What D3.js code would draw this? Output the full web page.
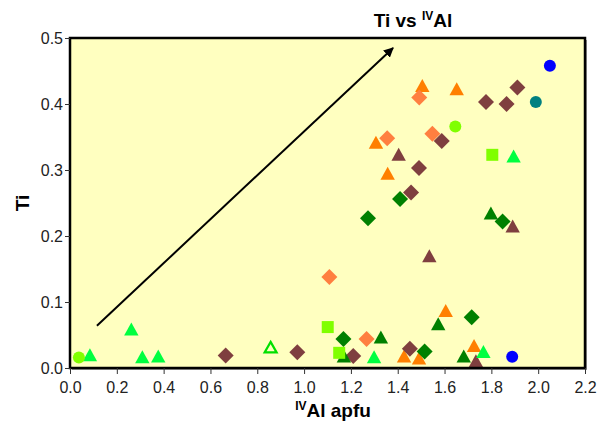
<!DOCTYPE html>
<html><head><meta charset="utf-8">
<script src="https://cdn.jsdelivr.net/npm/d3@7"></script>
<style>body{margin:0;background:#fff}svg{display:block}</style>
</head><body>
<svg id="chart" width="607" height="435"></svg>
<script>
// ---- data ----
const xTicks = [0.0,0.2,0.4,0.6,0.8,1.0,1.2,1.4,1.6,1.8,2.0,2.2];
const yTicks = [0.0,0.1,0.2,0.3,0.4,0.5];
const orangeTriangles = [[1.505,0.425],[1.652,0.420],[1.307,0.339],[1.357,0.292],[1.427,0.015],[1.491,0.012],[1.605,0.084],[1.726,0.031]];
const coralDiamonds = [[1.492,0.410],[1.355,0.348],[1.548,0.355],[1.108,0.138],[1.267,0.044]];
const brownDiamonds = [[0.665,0.019],[0.971,0.024],[1.210,0.018],[1.452,0.029],[1.491,0.303],[1.457,0.266],[1.588,0.344],[1.777,0.403],[1.865,0.400],[1.911,0.425]];
const brownTriangles = [[1.404,0.321],[1.535,0.167],[1.891,0.212],[1.734,0.008]];
const darkGreenDiamonds = [[1.410,0.256],[1.273,0.227],[1.848,0.222],[1.168,0.044],[1.515,0.025],[1.716,0.077]];
const darkGreenTriangles = [[1.798,0.232],[1.170,0.015],[1.328,0.044],[1.573,0.064],[1.682,0.015]];
const greenTriangles = [[0.085,0.017],[0.262,0.056],[0.309,0.014],[0.377,0.015],[1.299,0.014],[1.766,0.022],[1.895,0.318]];
const greenOpenTriangles = [[0.857,0.029]];
const limeCircles = [[0.038,0.016],[1.646,0.366]];
const limeSquares = [[1.101,0.062],[1.150,0.023],[1.804,0.323]];
const blueCircles = [[2.050,0.458],[1.889,0.017]];
const tealCircles = [[1.990,0.403]];
const arrowFrom = [0.115,0.064];
const arrowTo = [1.38,0.485];

const series = [
  {data: orangeTriangles, shape:'triangle', fill:'#FF7F00'},
  {data: coralDiamonds, shape:'diamond', fill:'#FF7F40'},
  {data: brownDiamonds, shape:'diamond', fill:'#7F3F3F'},
  {data: brownTriangles, shape:'triangle', fill:'#7F3F3F'},
  {data: darkGreenDiamonds, shape:'diamond', fill:'#008000'},
  {data: darkGreenTriangles, shape:'triangle', fill:'#008000'},
  {data: greenTriangles, shape:'triangle', fill:'#00FF40'},
  {data: greenOpenTriangles, shape:'triangle', fill:'none', stroke:'#00E000'},
  {data: limeCircles, shape:'circle', fill:'#80FF00'},
  {data: limeSquares, shape:'square', fill:'#80FF00'},
  {data: blueCircles, shape:'circle', fill:'#0000FF'},
  {data: tealCircles, shape:'circle', fill:'#008080'}
];

// ---- layout ----
const L=70, R=585, T=38, B=368;
const svg = d3.select('#chart');
const x = d3.scaleLinear().domain([0,2.2]).range([L,R]);
const y = d3.scaleLinear().domain([0,0.5]).range([B,T]);

svg.append('rect').attr('x',L+2).attr('y',T+2).attr('width',R-L).attr('height',B-T).attr('fill','#9a9a9a');
svg.append('rect').attr('x',L).attr('y',T).attr('width',R-L).attr('height',B-T).attr('fill','#FFFFC0');

const shapes = {
  triangle: 'M0,-8.5L7.2,4.5L-7.2,4.5Z',
  diamond: 'M0,-8L8,0L0,8L-8,0Z',
  square: 'M-6,-6H6V6H-6Z'
};
const g = svg.append('g');
series.forEach(s=>{
  s.data.forEach(d=>{
    if (s.shape==='circle') {
      g.append('circle').attr('cx',x(d[0])).attr('cy',y(d[1])).attr('r',6).attr('fill',s.fill);
    } else if (s.stroke) {
      g.append('path').attr('d','M0,-7L6,3.6L-6,3.6Z').attr('transform',`translate(${x(d[0])},${y(d[1])})`)
        .attr('fill','none').attr('stroke',s.stroke).attr('stroke-width',2.2);
    } else {
      g.append('path').attr('d',shapes[s.shape]).attr('transform',`translate(${x(d[0])},${y(d[1])})`).attr('fill',s.fill);
    }
  });
});

// arrow
svg.append('defs').append('marker').attr('id','ah').attr('viewBox','0 0 10 10').attr('refX',9).attr('refY',5)
  .attr('markerWidth',5).attr('markerHeight',5).attr('orient','auto')
  .append('path').attr('d','M0,0L10,5L0,10Z').attr('fill','#000');
svg.append('line').attr('x1',x(arrowFrom[0])).attr('y1',y(arrowFrom[1])).attr('x2',x(arrowTo[0])).attr('y2',y(arrowTo[1]))
  .attr('stroke','#000').attr('stroke-width',2).attr('marker-end','url(#ah)');

// border
svg.append('rect').attr('x',L).attr('y',T).attr('width',R-L).attr('height',B-T).attr('fill','none').attr('stroke','#000').attr('stroke-width',2.5);

// axes
const font='Arial, Liberation Sans, sans-serif';
const xAxis = svg.append('g').attr('transform',`translate(0,${B})`)
  .call(d3.axisBottom(x).tickValues(xTicks).tickFormat(d3.format('.1f')).tickSize(6).tickSizeOuter(0));
const yAxis = svg.append('g').attr('transform',`translate(${L},0)`)
  .call(d3.axisLeft(y).tickValues(yTicks).tickFormat(d3.format('.1f')).tickSize(5).tickSizeOuter(0));
[xAxis,yAxis].forEach(a=>{
  a.select('.domain').remove();
  a.selectAll('line').attr('stroke','#333').attr('stroke-width',1);
  a.selectAll('text').attr('font-family',font).attr('font-size',16).attr('fill','#222');
});
xAxis.selectAll('text').attr('dy','1.0em');
yAxis.selectAll('text').attr('x',-7);

// title
const t = svg.append('text').attr('x',413).attr('y',27).attr('text-anchor','middle').attr('font-family',font).attr('font-weight','bold').attr('font-size',19).attr('fill','#000');
t.append('tspan').text('Ti vs ');
t.append('tspan').text('IV').attr('font-size',12).attr('dy',-7);
t.append('tspan').text('Al').attr('dy',7);
// x label
const xl = svg.append('text').attr('x',333).attr('y',417).attr('text-anchor','middle').attr('font-family',font).attr('font-weight','bold').attr('font-size',19).attr('fill','#000');
xl.append('tspan').text('IV').attr('font-size',12).attr('dy',-7);
xl.append('tspan').text('Al apfu').attr('dy',7);
// y label
svg.append('text').attr('transform','translate(29,203) rotate(-90)').attr('text-anchor','middle').attr('font-family',font).attr('font-weight','bold').attr('font-size',19).attr('fill','#000').text('Ti');
</script>
</body></html>
